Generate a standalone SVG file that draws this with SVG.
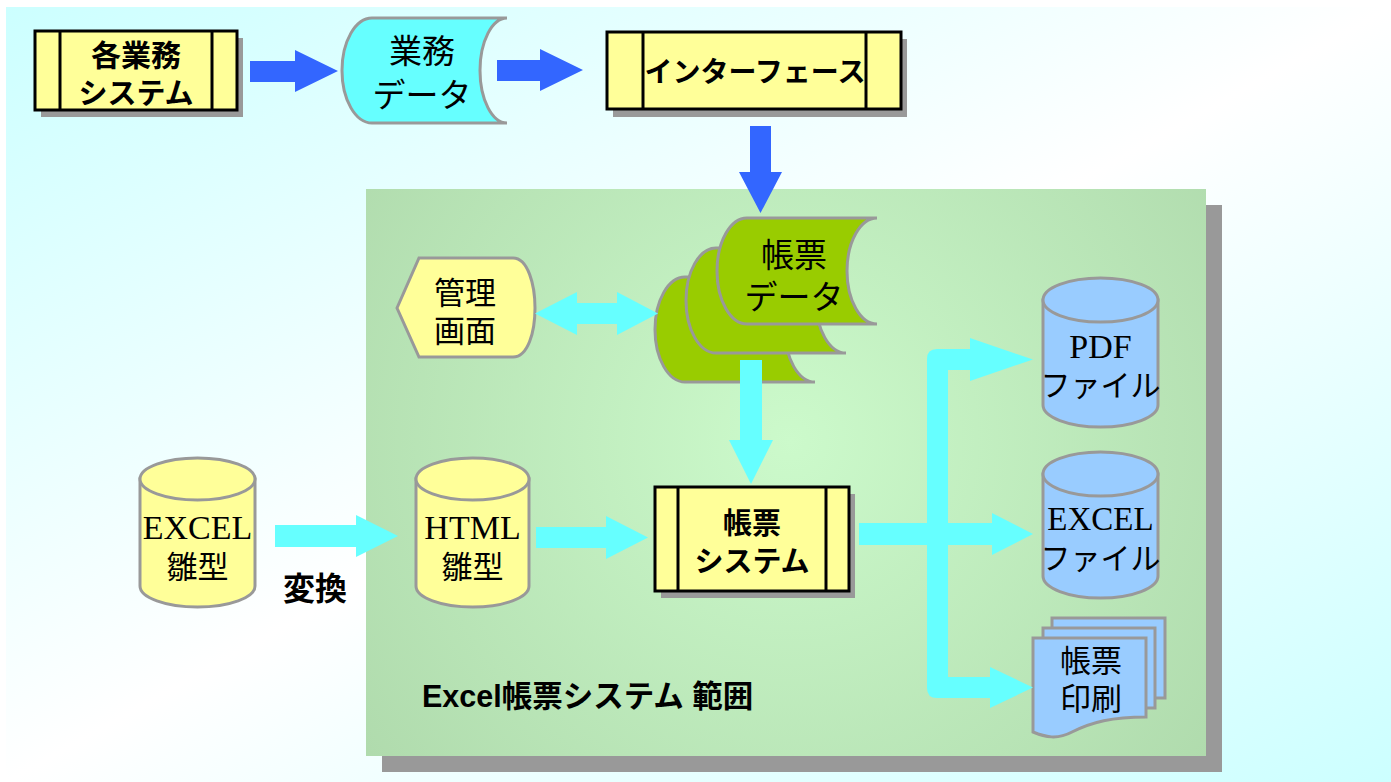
<svg xmlns="http://www.w3.org/2000/svg" width="1391" height="782" viewBox="0 0 1391 782">
<defs>
<linearGradient id="bg" x1="0" y1="0" x2="1" y2="1">
<stop offset="0" stop-color="#ccffff"/>
<stop offset="0.5" stop-color="#ffffff"/>
<stop offset="1" stop-color="#ccffff"/>
</linearGradient>
<radialGradient id="area" gradientUnits="userSpaceOnUse" cx="790" cy="440" r="560">
<stop offset="0" stop-color="#ccfacb"/>
<stop offset="1" stop-color="#aed9ab"/>
</radialGradient>
<style>
.proc{fill:#ffff99;stroke:#000;stroke-width:3}
.shadow{fill:#999999}
.gshape{stroke:#999999;stroke-width:3}
.blue{fill:#3366ff}
.cyan{fill:#66ffff}
.bold{font-family:"Liberation Sans","Noto Sans CJK JP",sans-serif;font-weight:bold;fill:#000;text-anchor:middle}
.ser{font-family:"Liberation Serif","Noto Sans CJK JP",serif;fill:#000;text-anchor:middle}
</style>
</defs>
<rect x="6" y="7" width="1385" height="775" fill="url(#bg)"/>
<g id="area-excel">
<rect x="382" y="205" width="840" height="567" class="shadow"/>
<rect x="366" y="189" width="840" height="567" fill="url(#area)"/>
<text x="422" y="707" class="bold" style="text-anchor:start;font-size:30.5px">Excel帳票システム 範囲</text>
</g>
<g id="n-gyomu-system">
<rect x="41" y="38" width="202" height="79" class="shadow"/>
<rect x="35" y="31" width="202" height="79" class="proc"/>
<line x1="60" y1="31" x2="60" y2="110" stroke="#000" stroke-width="3"/>
<line x1="212" y1="31" x2="212" y2="110" stroke="#000" stroke-width="3"/>
<text x="136" y="66" class="bold" style="font-size:30px">各業務</text>
<text x="136" y="104" class="bold" style="font-size:29px">システム</text>
</g>
<g id="n-gyomu-data">
<path d="M372,18 L507,18 A27 52.5 0 0 0 507,123 L372,123 A30 52.5 0 0 1 372,18 Z" fill="#66ffff" class="gshape"/>
<text x="422" y="63" class="ser" style="font-size:33px">業務</text>
<text x="422" y="107" class="ser" style="font-size:33px">データ</text>
</g>
<g id="n-interface">
<rect x="613" y="39" width="294" height="78" class="shadow"/>
<rect x="607" y="32" width="294" height="77" class="proc"/>
<line x1="643" y1="32" x2="643" y2="109" stroke="#000" stroke-width="3"/>
<line x1="866" y1="32" x2="866" y2="109" stroke="#000" stroke-width="3"/>
<text x="755" y="82" class="bold" style="font-size:28px">インターフェース</text>
</g>
<g id="n-chohyo-data">
<path d="M685,277 L815,277 A30 52.5 0 0 0 815,382 L685,382 A30 52.5 0 0 1 685,277 Z" fill="#99cc00" class="gshape"/>
<path d="M716,248 L846,248 A30 52.5 0 0 0 846,353 L716,353 A30 52.5 0 0 1 716,248 Z" fill="#99cc00" class="gshape"/>
<path d="M747,218 L877,218 A30 53 0 0 0 877,324 L747,324 A30 53 0 0 1 747,218 Z" fill="#99cc00" class="gshape"/>
<text x="794" y="267" class="ser" style="font-size:33px">帳票</text>
<text x="794" y="309" class="ser" style="font-size:33px">データ</text>
</g>
<g id="n-kanri">
<path d="M397,308 L419,258 L513,258 C528,258 535,285 535,308 C535,332 528,357 513,357 L419,357 Z" fill="#ffff99" class="gshape"/>
<text x="465" y="304" class="ser" style="font-size:31px">管理</text>
<text x="465" y="342" class="ser" style="font-size:31px">画面</text>
</g>
<g id="n-excel-hinagata">
<path d="M140,479 L140,586 A57.5 21 0 0 0 255,586 L255,479 Z" fill="#ffff99" class="gshape"/>
<ellipse cx="197.5" cy="479" rx="57.5" ry="21" fill="#ffff99" class="gshape"/>
<text x="197.5" y="539" class="ser" style="font-size:34px">EXCEL</text>
<text x="197.5" y="578" class="ser" style="font-size:31px">雛型</text>
</g>
<text x="315" y="600" class="bold" style="font-size:32px">変換</text>
<g id="n-html-hinagata">
<path d="M416,479 L416,586 A56.5 21 0 0 0 529,586 L529,479 Z" fill="#ffff99" class="gshape"/>
<ellipse cx="472.5" cy="479" rx="56.5" ry="21" fill="#ffff99" class="gshape"/>
<text x="472.5" y="539" class="ser" style="font-size:34px">HTML</text>
<text x="472.5" y="578" class="ser" style="font-size:31px">雛型</text>
</g>
<g id="n-chohyo-system">
<rect x="661" y="494" width="194" height="104" class="shadow"/>
<rect x="655" y="487" width="194" height="104" class="proc"/>
<line x1="678" y1="487" x2="678" y2="591" stroke="#000" stroke-width="3"/>
<line x1="826" y1="487" x2="826" y2="591" stroke="#000" stroke-width="3"/>
<text x="752" y="534" class="bold" style="font-size:29px">帳票</text>
<text x="752" y="572" class="bold" style="font-size:29px">システム</text>
</g>
<g id="n-pdf">
<path d="M1043,300 L1043,405 A57.5 22 0 0 0 1158,405 L1158,300 Z" fill="#99ccff" class="gshape"/>
<ellipse cx="1100.5" cy="300" rx="57.5" ry="22" fill="#99ccff" class="gshape"/>
<text x="1100.5" y="358" class="ser" style="font-size:34px">PDF</text>
<text x="1100.5" y="396" class="ser" style="font-size:30px">ファイル</text>
</g>
<g id="n-excel-file">
<path d="M1043,474 L1043,576 A57.5 22 0 0 0 1158,576 L1158,474 Z" fill="#99ccff" class="gshape"/>
<ellipse cx="1100.5" cy="474" rx="57.5" ry="22" fill="#99ccff" class="gshape"/>
<text x="1100.5" y="530" class="ser" style="font-size:33px">EXCEL</text>
<text x="1100.5" y="569" class="ser" style="font-size:30px">ファイル</text>
</g>
<g id="n-print">
<rect x="1052" y="618" width="113" height="80" fill="#99ccff" class="gshape"/>
<rect x="1043" y="628" width="112" height="80" fill="#99ccff" class="gshape"/>
<path d="M1033,638 L1146,638 L1146,717 C1112,717 1092,722 1072,732 C1057,740 1045,737 1033,732 Z" fill="#99ccff" class="gshape"/>
<text x="1091" y="672" class="ser" style="font-size:31px">帳票</text>
<text x="1091" y="710" class="ser" style="font-size:31px">印刷</text>
</g>
<g id="connectors">
<polygon class="blue" points="250,61 295,61 295,50 338,71 295,92 295,82 250,82"/>
<polygon class="blue" points="497,60 540,60 540,49 583,70 540,91 540,81 497,81"/>
<polygon class="blue" points="750,126 771,126 771,172 782,172 760.5,213 739,172 750,172"/>
<polygon class="cyan" points="535,313.5 577,292 577,303 617,303 617,292 658,313.5 617,335 617,324 577,324 577,335"/>
<polygon class="cyan" points="740,360 762,360 762,440 773,440 751,484 729,440 740,440"/>
<polygon class="cyan" points="275,525 356,525 356,515 398,536 356,557 356,547 275,547"/>
<polygon class="cyan" points="536,527 606,527 606,516 648,537.5 606,559 606,548 536,548"/>
<polygon class="cyan" points="859,523 992,523 992,513 1033,534 992,555 992,545 859,545"/>
<path class="cyan" d="M937,349 L970,349 L970,338 L1033,359.5 L970,381 L970,370 L948,370 L948,677 L990,677 L990,667 L1033,687.5 L990,708 L990,698 L937,698 Q927,698 927,688 L927,359 Q927,349 937,349 Z"/>
</g>
</svg>
